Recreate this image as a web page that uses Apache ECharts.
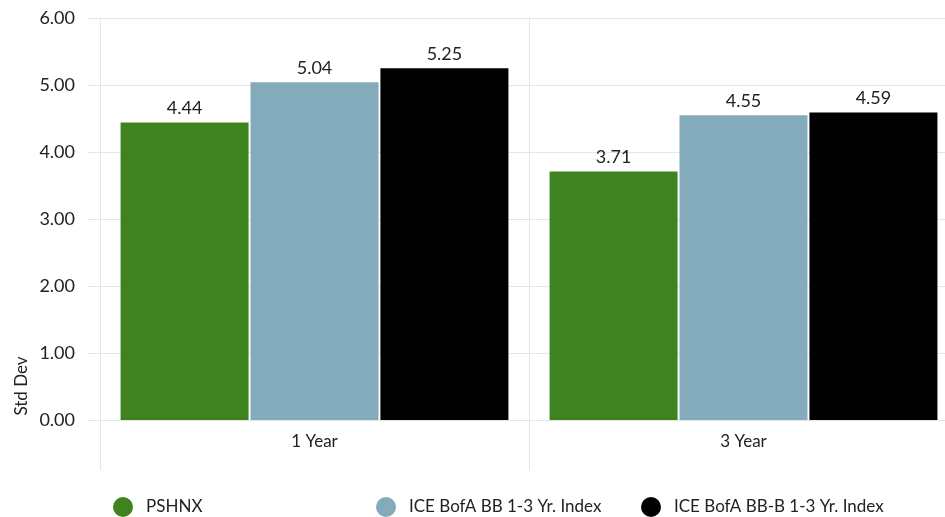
<!DOCTYPE html>
<html>
<head>
<meta charset="utf-8">
<script src="https://cdn.jsdelivr.net/npm/echarts@6/dist/echarts.min.js"></script>
<style>html,body{margin:0;padding:0;background:#fff;overflow:hidden;width:945px;height:517px}#c{width:958px;height:517px}</style>
</head>
<body>
<div id="c"></div>
<script>
var categories = ['1 Year', '3 Year'];
var seriesNames = ['PSHNX', 'ICE BofA BB 1-3 Yr. Index', 'ICE BofA BB-B 1-3 Yr. Index'];
var seriesColors = ['#3e831f', '#83abbb', '#000000'];
var pshnx = [4.44, 3.71];
var bb13 = [5.04, 4.55];
var bbb13 = [5.25, 4.59];
var yTicks = [0, 1, 2, 3, 4, 5, 6];

var values = [pshnx, bb13, bbb13];
var FONT = 'Lato';
var grid = '#e6e6e6';
var chart = echarts.init(document.getElementById('c'));
var legendLeft = [113, 376, 641];
chart.setOption({
  animation: false,
  textStyle: {fontFamily: FONT},
  grid: {left: 100, top: 18, bottom: 97, right: 0, containLabel: false},
  legend: seriesNames.map(function (n, i) {
    return {
      data: [n], left: legendLeft[i], top: 497, icon: 'circle', itemWidth: 20, itemHeight: 20,
      padding: 0, selectedMode: false,
      textStyle: {fontFamily: FONT, fontSize: 17, color: '#222', padding: [0, 0, 0, 8]}
    };
  }),
  graphic: [{
    type: 'text', x: 22, y: 386, rotation: Math.PI / 2,
    style: {text: 'Std Dev', fontFamily: FONT, fontSize: 17, fill: '#222', textAlign: 'center', textVerticalAlign: 'middle'}
  }],
  xAxis: {
    type: 'category', data: categories,
    axisLine: {show: true, lineStyle: {color: grid}},
    axisTick: {show: true, length: 50, lineStyle: {color: grid}},
    splitLine: {show: true, lineStyle: {color: grid}},
    axisLabel: {fontFamily: FONT, fontSize: 17, color: '#222', margin: 13}
  },
  yAxis: {
    type: 'value', min: 0, max: 6, interval: 1,
    axisLine: {show: false},
    axisTick: {show: true, length: 12, lineStyle: {color: grid}},
    splitLine: {show: true, lineStyle: {color: grid}},
    axisLabel: {fontFamily: FONT, fontSize: 18, color: '#222', margin: 25,
      formatter: function (v) { return yTicks.indexOf(v) >= 0 ? v.toFixed(2) : ''; }}
  },
  series: seriesNames.map(function (n, i) {
    return {
      name: n, type: 'bar', data: values[i], barWidth: 128, barGap: '1.5%',
      itemStyle: {color: seriesColors[i]},
      label: {show: true, position: 'top', distance: 5, fontFamily: FONT, fontSize: 18, color: '#222',
        formatter: function (p) { return p.value.toFixed(2); }}
    };
  })
});
</script>
</body>
</html>
